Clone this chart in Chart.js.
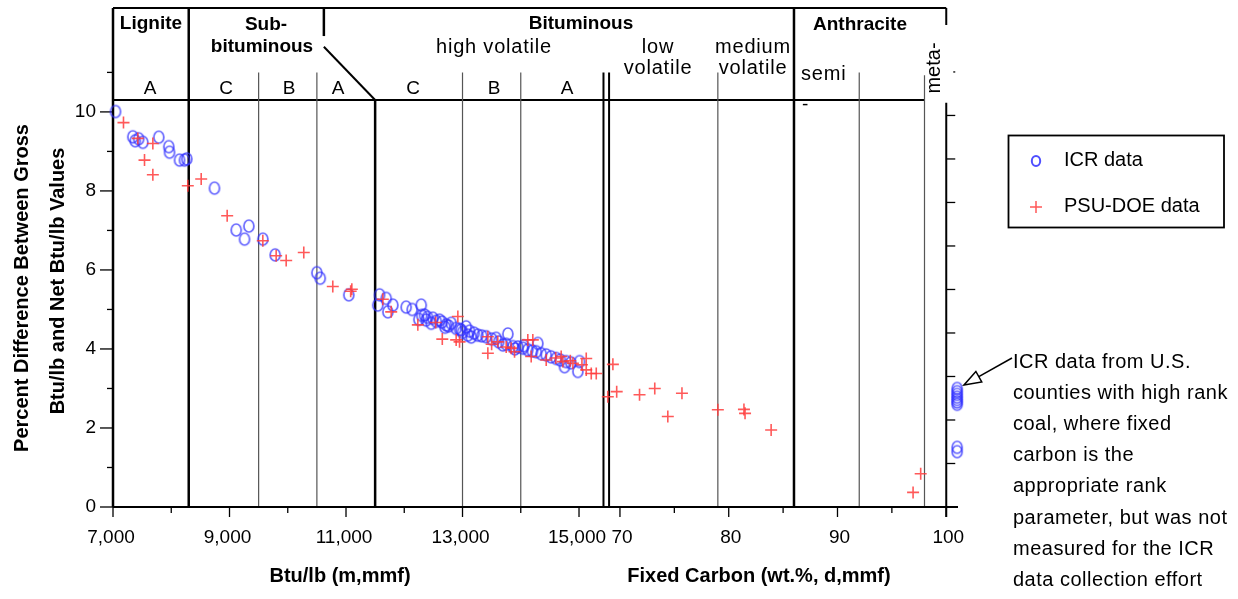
<!DOCTYPE html>
<html>
<head>
<meta charset="utf-8">
<script src="https://cdn.jsdelivr.net/npm/chart.js@4.4.1/dist/chart.umd.min.js"></script>
<style>
  html, body { margin: 0; padding: 0; background: #fff; }
</style>
</head>
<body>
<canvas id="grafico" width="1238" height="599"></canvas>
<script>
// PSU-DOE data, Btu/lb (m,mmf) region
const psuBtu = [7180, 7426, 7684, 7541, 7684, 8284, 8514, 8960, 9572, 9801, 9973, 10275, 10773, 11100, 11080,
  11632, 11776, 12233, 12539, 12920, 12653, 12891, 12949, 13435, 13435, 13606, 13835, 13893, 14121, 14207,
  14179, 14437, 14694, 14723, 14895, 15124, 15124, 15210, 15296, 15494, 13500, 13750, 14600, 14850, 15050]
const psuPct = [9.73, 9.33, 9.20, 8.78, 8.41, 8.13, 8.30, 7.37, 6.74, 6.36, 6.24, 6.44, 5.58, 5.51, 5.46,
  5.26, 4.94, 4.61, 4.67, 4.82, 4.25, 4.23, 4.18, 4.31, 3.89, 4.18, 4.02, 3.93, 4.23, 4.23,
  3.81, 3.72, 3.81, 3.68, 3.64, 3.76, 3.47, 3.38, 3.38, 2.79, 4.12, 4.05, 3.77, 3.70, 3.60]

// PSU-DOE data, fixed carbon region
const psuFc = [69.35, 69.7, 71.8, 73.2, 74.4, 75.7, 79.0, 81.4, 81.5, 83.9, 97.65, 96.95]
const psuFcPct = [3.61, 2.92, 2.84, 3.00, 2.29, 2.88, 2.46, 2.47, 2.37, 1.95, 0.84, 0.37]

// ICR data, Btu/lb region
const icrBtu = [7043, 7340, 7381, 7440, 7512, 7786, 7958, 7970, 8142, 8227, 8267, 8742, 9115, 9332, 9258,
  9572, 9784, 10499, 10557, 11048,
  11575, 11546, 11690, 11718, 11804, 12033, 12136, 12291, 12348, 12377, 12463, 12491, 12605, 12720, 12806,
  12891, 12977, 13063, 13091, 13262, 13406, 13578, 13778, 13692, 13864, 14035, 14293, 14265, 14437, 14609,
  14780, 14751, 15009, 14980,
  12400, 12550, 12650, 12760, 12950, 13120, 13200, 13330, 13500, 13620, 13750, 13950, 14120, 14200, 14350,
  14520, 14680, 14860, 13000, 12300, 12250, 12700, 13900, 14050, 13150]
const icrPct = [10.01, 9.37, 9.27, 9.32, 9.23, 9.36, 9.12, 8.98, 8.78, 8.78, 8.81, 8.07, 7.01, 7.11, 6.78,
  6.78, 6.38, 5.93, 5.79, 5.37,
  5.37, 5.11, 5.28, 4.94, 5.11, 5.06, 5.00, 5.11, 4.86, 4.73, 4.65, 4.78, 4.73, 4.61, 4.65,
  4.52, 4.48, 4.56, 4.35, 4.35, 4.31, 4.27, 4.38, 4.10, 4.06, 4.02, 4.14, 3.93, 3.85, 3.76,
  3.68, 3.55, 3.68, 3.43,
  4.80, 4.70, 4.68, 4.58, 4.50, 4.45, 4.40, 4.33, 4.25, 4.18, 4.12, 4.05, 3.98, 3.95, 3.88,
  3.80, 3.72, 3.65, 4.42, 4.85, 4.75, 4.55, 4.00, 4.08, 4.30]

// ICR data from high rank counties (fixed carbon not measured), drawn just right of 100
const icrHighFc = [101, 101, 101, 101, 101, 101, 101, 101, 101]
const icrHighPct = [3.00, 2.92, 2.85, 2.78, 2.72, 2.66, 2.60, 1.51, 1.40]

// ticks
const btuTicks = [7000, 9000, 11000, 13000, 15000]
const btuMinor = [8000, 10000, 12000, 14000]
const fcTicks = [70, 80, 90, 100]
const fcMinor = [75, 85, 95]
const pctTicks = [0, 2, 4, 6, 8, 10]
const pctMinor = [1, 3, 5, 7, 9, 11]
const rightTicks = [1, 2, 3, 4, 5, 6, 7, 8, 9, 10]

const FUENTE = '"Liberation Sans", Arial, Helvetica, sans-serif'

function hacerAnillo(color) {
    let c = document.createElement('canvas')
    c.width = 14
    c.height = 16
    let g = c.getContext('2d')
    g.strokeStyle = color
    g.lineWidth = 1.7
    g.beginPath()
    g.ellipse(7, 8, 5, 6, 0, 0, Math.PI * 2)
    g.stroke()
    return c
}
const anillo = hacerAnillo('rgba(50,50,255,0.75)')

function puntos(xs, ys) {
    return xs.map((x, i) => ({x: x, y: ys[i]}))
}

const decorado = {
    id: 'decorado',
    beforeDatasetsDraw(chart) {
        const {ctx, chartArea: a, scales} = chart
        const bx = v => scales.x.getPixelForValue(v)
        const fx = v => scales.xfc.getPixelForValue(v)
        const py = v => scales.y.getPixelForValue(v)
        const linea = (x1, y1, x2, y2, w, color) => {
            ctx.strokeStyle = color || '#000'
            ctx.lineWidth = w
            ctx.beginPath()
            ctx.moveTo(x1, y1)
            ctx.lineTo(x2, y2)
            ctx.stroke()
        }
        ctx.save()
        const yTop = a.top
        const yHead = py(10.3)
        const yRow = py(11)

        // rank band frame
        linea(a.left, yTop, fx(100), yTop, 2)
        linea(a.left, yHead, fx(98), yHead, 2)
        linea(bx(8300), yTop, bx(8300), a.bottom, 2.5)
        linea(fx(86), yTop, fx(86), a.bottom, 2.5)
        linea(bx(10620), yTop, bx(10620), py(11.92), 2.5)
        linea(bx(10620), py(11.65), bx(11500), yHead, 2)
        linea(bx(11500), yHead, bx(11500), a.bottom, 2.5)
        ;[9500, 10500, 13000, 14000].forEach(v => linea(bx(v), yRow, bx(v), a.bottom, 1.2, '#555'))
        ;[79, 92].forEach(v => linea(fx(v), yRow, fx(v), a.bottom, 1.2, '#555'))
        linea(fx(98), py(10.93), fx(98), a.bottom, 1.2, '#555')
        linea(bx(15420), yRow, bx(15420), a.bottom, 2)
        linea(fx(69), yRow, fx(69), a.bottom, 2)

        // axes
        linea(a.left, yTop, a.left, a.bottom, 2.5)
        linea(a.left, a.bottom, a.right, a.bottom, 2)
        linea(fx(100), yTop, fx(100), py(12.2), 2)
        linea(fx(100), py(10.23), fx(100), a.bottom + 10, 2)

        // ticks
        pctTicks.forEach(v => linea(a.left - 13, py(v), a.left, py(v), 1.3))
        pctMinor.forEach(v => linea(a.left - 6, py(v), a.left, py(v), 1.3))
        btuTicks.forEach(v => linea(bx(v), a.bottom, bx(v), a.bottom + 10, 1.3))
        btuMinor.forEach(v => linea(bx(v), a.bottom, bx(v), a.bottom + 6, 1.3))
        fcTicks.forEach(v => linea(fx(v), a.bottom, fx(v), a.bottom + 10, 1.3))
        fcMinor.forEach(v => linea(fx(v), a.bottom, fx(v), a.bottom + 6, 1.3))
        rightTicks.forEach(v => {
            let y = scales.y2.getPixelForValue(v)
            linea(fx(100) + (v === 10 ? 7 : 0), y, fx(100) + 9, y, 1.3)
        })

        ctx.fillStyle = '#000'
        ctx.textBaseline = 'middle'
        ctx.font = '19px ' + FUENTE
        ctx.textAlign = 'right'
        pctTicks.forEach(v => ctx.fillText(String(v), a.left - 17, py(v)))
        ctx.textAlign = 'center'
        btuTicks.forEach(v => ctx.fillText(v.toLocaleString('en-US'), bx(v) - 2, 538))
        fcTicks.forEach(v => ctx.fillText(String(v), fx(v) + 2, 538))

        // axis titles
        ctx.font = 'bold 20px ' + FUENTE
        ctx.fillText('Btu/lb (m,mmf)', 340, 576)
        ctx.fillText('Fixed Carbon (wt.%, d,mmf)', 759, 576)
        ctx.save()
        ctx.translate(22, 288)
        ctx.rotate(-Math.PI / 2)
        ctx.fillText('Percent Difference Between Gross', 0, 0)
        ctx.restore()
        ctx.save()
        ctx.translate(58, 281)
        ctx.rotate(-Math.PI / 2)
        ctx.fillText('Btu/lb and Net Btu/lb Values', 0, 0)
        ctx.restore()

        // rank names
        ctx.font = 'bold 19px ' + FUENTE
        ctx.fillText('Lignite', 151, 24)
        ctx.fillText('Sub-', 266, 25)
        ctx.fillText('bituminous', 262, 47)
        ctx.fillText('Bituminous', 581, 24)
        ctx.fillText('Anthracite', 860, 25)
        ctx.font = '20px ' + FUENTE
        ctx.letterSpacing = '0.8px'
        ctx.fillText('high volatile', 494, 47)
        ctx.fillText('low', 658, 47)
        ctx.fillText('volatile', 658, 68)
        ctx.fillText('medium', 753, 47)
        ctx.fillText('volatile', 753, 68)
        ctx.textAlign = 'left'
        ctx.fillText('semi', 801, 74)
        ctx.letterSpacing = '0px'
        ctx.font = '19px ' + FUENTE
        ctx.fillText('-', 802, 105)
        ctx.textAlign = 'center'
        ;[['A', 150], ['C', 226], ['B', 289], ['A', 338], ['C', 413], ['B', 494], ['A', 567]].forEach(l => {
            ctx.fillText(l[0], l[1], 89)
        })
        ctx.save()
        ctx.translate(934, 68)
        ctx.rotate(-Math.PI / 2)
        ctx.font = '20px ' + FUENTE
        ctx.fillText('meta-', 0, 0)
        ctx.restore()
        ctx.restore()
    },
    afterDraw(chart) {
        const {ctx} = chart
        ctx.save()
        // legend box
        ctx.strokeStyle = '#000'
        ctx.lineWidth = 1.8
        ctx.strokeRect(1008.5, 135.5, 215.5, 92)
        ctx.strokeStyle = 'rgba(60,60,255,0.9)'
        ctx.lineWidth = 2
        ctx.beginPath()
        ctx.ellipse(1036, 161, 4.2, 5, 0, 0, Math.PI * 2)
        ctx.stroke()
        ctx.strokeStyle = 'rgba(255,70,70,0.9)'
        ctx.lineWidth = 1.5
        ctx.beginPath()
        ctx.moveTo(1030, 207); ctx.lineTo(1042, 207)
        ctx.moveTo(1036, 201); ctx.lineTo(1036, 213)
        ctx.stroke()
        ctx.fillStyle = '#000'
        ctx.font = '20px ' + FUENTE
        ctx.textBaseline = 'middle'
        ctx.textAlign = 'left'
        ctx.fillText('ICR data', 1064, 160)
        ctx.fillText('PSU-DOE data', 1064, 206)

        // annotation with hollow arrow
        const x0 = 1012, y0 = 358, x1 = 964, y1 = 385
        const ang = Math.atan2(y1 - y0, x1 - x0)
        const largo = 17, ancho = 6
        const bxp = x1 - Math.cos(ang) * largo, byp = y1 - Math.sin(ang) * largo
        ctx.strokeStyle = '#000'
        ctx.lineWidth = 1.5
        ctx.beginPath()
        ctx.moveTo(x0, y0)
        ctx.lineTo(bxp, byp)
        ctx.stroke()
        ctx.beginPath()
        ctx.moveTo(x1, y1)
        ctx.lineTo(bxp + Math.sin(ang) * ancho, byp - Math.cos(ang) * ancho)
        ctx.lineTo(bxp - Math.sin(ang) * ancho, byp + Math.cos(ang) * ancho)
        ctx.closePath()
        ctx.fillStyle = '#fff'
        ctx.fill()
        ctx.stroke()

        ctx.fillStyle = '#000'
        ctx.letterSpacing = '0.5px'
        const notas = ['ICR data from U.S.', 'counties with high rank', 'coal, where fixed', 'carbon is the',
            'appropriate rank', 'parameter, but was not', 'measured for the ICR', 'data collection effort']
        notas.forEach((t, i) => ctx.fillText(t, 1013, 362 + i * 31.2))
        ctx.restore()
    }
}

let grafico = new Chart(document.getElementById('grafico'), {
    type: 'scatter',
    data: {
        datasets: [
            {
                label: 'PSU-DOE data',
                data: puntos(psuBtu, psuPct),
                xAxisID: 'x',
                pointStyle: 'cross',
                pointRadius: 6,
                borderColor: 'rgba(255,60,60,0.85)',
                borderWidth: 1.6,
                clip: false,
            },
            {
                label: 'PSU-DOE data (fixed carbon)',
                data: puntos(psuFc, psuFcPct),
                xAxisID: 'xfc',
                pointStyle: 'cross',
                pointRadius: 6,
                borderColor: 'rgba(255,60,60,0.85)',
                borderWidth: 1.6,
                clip: false,
            },
            {
                label: 'ICR data',
                data: puntos(icrBtu, icrPct),
                xAxisID: 'x',
                pointStyle: anillo,
                clip: false,
            },
            {
                label: 'ICR data (high rank)',
                data: puntos(icrHighFc, icrHighPct),
                xAxisID: 'xfc',
                pointStyle: anillo,
                clip: false,
            },
        ]
    },
    options: {
        responsive: false,
        animation: false,
        devicePixelRatio: 1,
        layout: {padding: {left: 113, top: 8, right: 280, bottom: 92}},
        plugins: {legend: {display: false}, tooltip: {enabled: false}},
        scales: {
            // Btu/lb scale, 7,000 at the left axis
            x: {type: 'linear', display: false, min: 7000, max: 21506},
            // fixed carbon scale sharing the same pixels, 69 at the double line
            xfc: {type: 'linear', display: false, min: 23.39, max: 101.08},
            y: {type: 'linear', display: false, min: 0, max: 12.63},
            y2: {type: 'linear', display: false, position: 'right', min: 0, max: 11.47},
        }
    },
    plugins: [decorado]
})
</script>
</body>
</html>
